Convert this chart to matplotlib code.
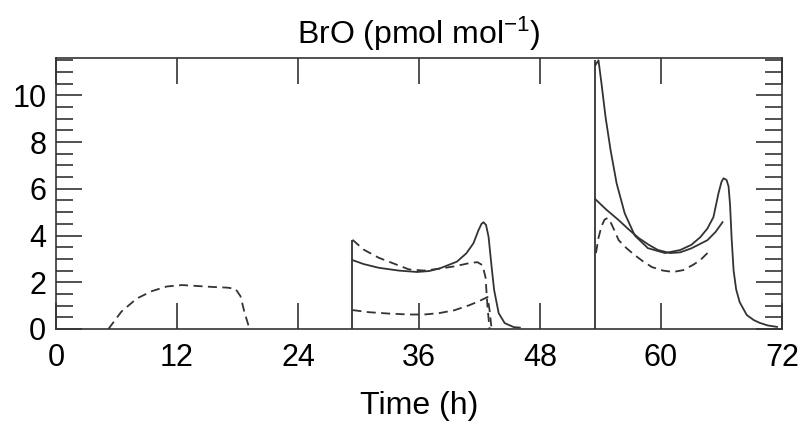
import numpy as np
import matplotlib.pyplot as plt
from matplotlib.ticker import MultipleLocator

plt.rcParams['font.family'] = ['Liberation Sans', 'DejaVu Sans']
plt.rcParams['mathtext.fontset'] = 'custom'
plt.rcParams['mathtext.rm'] = 'Liberation Sans'
plt.rcParams['mathtext.it'] = 'Liberation Sans'

# Day 1: dashed run
d1_t = [5.2, 6.5, 8.0, 9.5, 11.0, 12.5, 14.0, 15.5, 17.0, 17.8, 18.3, 18.7, 19.2]
d1_b = [0.0, 0.75, 1.3, 1.62, 1.82, 1.88, 1.84, 1.8, 1.77, 1.72, 1.4, 0.7, 0.0]

# Day 2: three runs starting at 29.4 h
d2_t0 = 29.4
d2a_t = [29.4, 30.5, 32.0, 34.0, 35.8, 37.0, 38.1, 39.75, 40.7, 41.4, 41.9, 42.2, 42.4, 42.65, 42.9,
         43.2, 43.45, 43.9, 44.5, 45.4, 46.0]
d2a_b = [2.95, 2.78, 2.62, 2.5, 2.44, 2.48, 2.6, 2.88, 3.24, 3.67, 4.23, 4.5, 4.57, 4.45, 3.94,
         2.66, 1.67, 0.68, 0.25, 0.08, 0.06]
d2b_t = [29.4, 30.5, 32.0, 33.5, 35.0, 36.5, 38.0, 39.5, 41.0, 41.8, 42.3, 42.6, 42.8, 43.0]
d2b_b = [3.82, 3.4, 3.05, 2.8, 2.55, 2.5, 2.58, 2.68, 2.82, 2.86, 2.73, 2.2, 0.9, 0.0]
d2c_t = [29.4, 31.0, 33.0, 35.0, 36.5, 38.0, 39.5, 41.0, 42.0, 42.8, 43.0, 43.2]
d2c_b = [0.81, 0.72, 0.66, 0.62, 0.62, 0.68, 0.8, 1.02, 1.2, 1.37, 0.8, 0.0]

# Day 3: three runs starting at 53.5 h
d3_t0 = 53.5
d3a_t = [53.5, 53.8, 54.1, 54.5, 55.0, 55.6, 56.4, 57.4, 58.7, 60.4, 61.9, 63.0, 63.9, 64.6, 65.2,
         65.7, 66.0, 66.2, 66.5, 66.7, 66.85, 67.0, 67.2, 67.45, 67.8, 68.5, 69.2, 69.8, 70.6, 71.5]
d3a_b = [11.3, 11.5, 10.5, 9.07, 7.65, 6.23, 4.95, 4.0, 3.46, 3.25, 3.38, 3.6, 3.93, 4.3, 4.79,
         5.81, 6.3, 6.45, 6.38, 6.1, 5.3, 3.9, 2.5, 1.7, 1.15, 0.6, 0.38, 0.26, 0.15, 0.09]
d3b_t = [53.5, 54.6, 55.8, 56.8, 57.8, 58.8, 59.7, 60.9, 61.9, 63.0, 64.6, 65.4, 66.1]
d3b_b = [5.55, 5.1, 4.66, 4.26, 3.89, 3.6, 3.38, 3.25, 3.28, 3.45, 3.8, 4.15, 4.57]
d3c_t = [53.55, 53.8, 54.1, 54.4, 54.7, 55.0, 55.4, 55.8, 56.6, 57.4, 58.2, 59.1, 60.2, 61.2, 62.2, 63.2, 63.9, 64.7]
d3c_b = [3.25, 3.9, 4.4, 4.68, 4.75, 4.57, 4.2, 3.8, 3.45, 3.16, 2.9, 2.65, 2.5, 2.44, 2.52, 2.75, 2.95, 3.29]

ink = '#333333'

fig = plt.figure(figsize=(8.01, 4.22), dpi=100)
ax = fig.add_axes([0.0699, 0.2204, 0.9064, 0.6422])

dash = (0, (5, 3))
ax.plot(d1_t, d1_b, color=ink, lw=1.3, ls=dash)

ax.vlines(d2_t0, 0, max(d2b_b[0], d2a_b[0]), color=ink, lw=1.3)
ax.plot(d2a_t, d2a_b, color=ink, lw=1.3)
ax.plot(d2b_t, d2b_b, color=ink, lw=1.3, ls=dash)
ax.plot(d2c_t, d2c_b, color=ink, lw=1.3, ls=dash)

ax.vlines(d3_t0, 0, max(d3a_b), color=ink, lw=1.3)
ax.plot(d3a_t, d3a_b, color=ink, lw=1.3)
ax.plot(d3b_t, d3b_b, color=ink, lw=1.3)
ax.plot(d3c_t, d3c_b, color=ink, lw=1.3, ls=dash)

ax.set_xlim(0, 72)
ax.set_ylim(0, 11.6)
ax.xaxis.set_major_locator(MultipleLocator(12))
ax.yaxis.set_major_locator(MultipleLocator(2))
ax.yaxis.set_minor_locator(MultipleLocator(0.5))
ax.tick_params(which='both', direction='in', top=True, right=True,
               width=1.2, color=ink, labelsize=22, pad=7)
ax.tick_params(axis='x', which='major', pad=10)
ax.tick_params(which='major', length=19)
ax.tick_params(which='minor', length=12)
ax.tick_params(axis='x', which='minor', length=0)
for s in ax.spines.values():
    s.set_linewidth(1.2)
    s.set_color(ink)

ax.set_xlabel('Time (h)', fontsize=23, labelpad=13)
ax.set_title('BrO (pmol mol$^{-1}$)', fontsize=23, pad=10)

fig.savefig('out.png', dpi=100)
